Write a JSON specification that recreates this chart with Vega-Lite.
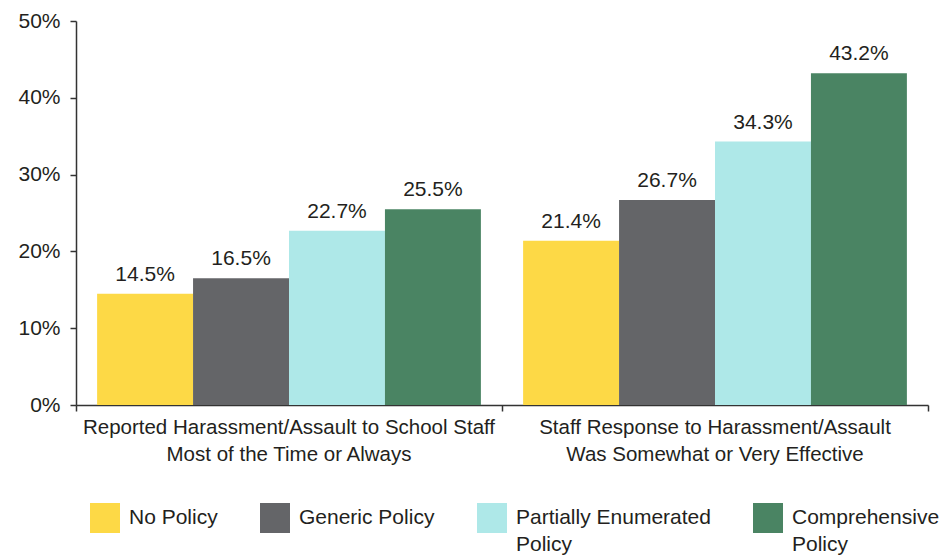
{
  "$schema": "https://vega.github.io/schema/vega-lite/v6.json",
  "autosize": {"type": "none"},
  "width": 852,
  "height": 384,
  "padding": {"left": 76, "top": 21, "right": 15, "bottom": 150},
  "background": "white",
  "config": {
    "font": "Liberation Sans",
    "view": {"stroke": null},
    "axis": {"labelFont": "Liberation Sans", "labelColor": "#231F20", "labelFontSize": 21, "domainColor": "#333333", "tickColor": "#333333", "domainWidth": 1.5, "tickWidth": 1.5, "grid": false, "title": null}
  },
  "data": {
    "values": [
      {"measure": "Reported Harassment/Assault to School Staff Most of the Time or Always", "policy": "No Policy", "value": 0.145},
      {"measure": "Reported Harassment/Assault to School Staff Most of the Time or Always", "policy": "Generic Policy", "value": 0.165},
      {"measure": "Reported Harassment/Assault to School Staff Most of the Time or Always", "policy": "Partially Enumerated Policy", "value": 0.227},
      {"measure": "Reported Harassment/Assault to School Staff Most of the Time or Always", "policy": "Comprehensive Policy", "value": 0.255},
      {"measure": "Staff Response to Harassment/Assault Was Somewhat or Very Effective", "policy": "No Policy", "value": 0.214},
      {"measure": "Staff Response to Harassment/Assault Was Somewhat or Very Effective", "policy": "Generic Policy", "value": 0.267},
      {"measure": "Staff Response to Harassment/Assault Was Somewhat or Very Effective", "policy": "Partially Enumerated Policy", "value": 0.343},
      {"measure": "Staff Response to Harassment/Assault Was Somewhat or Very Effective", "policy": "Comprehensive Policy", "value": 0.432}
    ]
  },
  "encoding": {
    "xOffset": {
      "field": "policy", "type": "nominal", "sort": ["No Policy", "Generic Policy", "Partially Enumerated Policy", "Comprehensive Policy"],
      "scale": {"paddingInner": 0, "paddingOuter": 0.22}
    },
    "y": {
      "field": "value", "type": "quantitative",
      "scale": {"domain": [0, 0.5], "nice": false},
      "axis": {"values": [0, 0.1, 0.2, 0.3, 0.4, 0.5], "format": ".0%", "tickSize": 6, "labelPadding": 10}
    }
  },
  "resolve": {"axis": {"x": "independent"}},
  "layer": [
    {
      "mark": {"type": "bar"},
      "encoding": {
        "x": {
          "field": "measure", "type": "nominal", "sort": null,
          "scale": {"paddingInner": 0, "paddingOuter": 0},
          "axis": {"orient": "bottom", "tickBand": "extent", "tickSize": 6, "labels": false}
        },
        "color": {
          "field": "policy", "type": "nominal",
          "scale": {"domain": ["No Policy", "Generic Policy", "Partially Enumerated Policy", "Comprehensive Policy"], "range": ["#FDD946", "#646568", "#AEE8E8", "#4A8463"]},
          "legend": {
            "title": null, "orient": "none", "legendX": 14, "legendY": 482, "direction": "horizontal", "columns": 4,
            "padding": 0, "symbolType": "square", "symbolSize": 900, "symbolStrokeWidth": 0, "symbolOpacity": 1,
            "labelFont": "Liberation Sans", "labelFontSize": 21, "labelColor": "#231F20", "labelLimit": 0, "labelOffset": 9,
            "columnPadding": 42,
            "labelExpr": "datum.label == 'Partially Enumerated Policy' ? ['Partially Enumerated', 'Policy'] : datum.label == 'Comprehensive Policy' ? ['Comprehensive', 'Policy'] : [datum.label, ' ']",
            "encode": {"labels": {"update": {"lineHeight": {"value": 27}}}}
          }
        }
      }
    },
    {
      "mark": {"type": "text", "baseline": "alphabetic", "dy": -13, "fontSize": 21, "color": "#231F20", "font": "Liberation Sans"},
      "encoding": {
        "x": {
          "field": "measure", "type": "nominal", "sort": null,
          "scale": {"paddingInner": 0, "paddingOuter": 0},
          "axis": {
            "orient": "bottom", "ticks": false, "domain": false, "labelAngle": 0, "labelPadding": 12, "labelLineHeight": 27, "labelLimit": 0, "labelBaseline": "top", "labelFontSize": 20.5,
            "labelExpr": "datum.value == 'Reported Harassment/Assault to School Staff Most of the Time or Always' ? ['Reported Harassment/Assault to School Staff', 'Most of the Time or Always'] : ['Staff Response to Harassment/Assault', 'Was Somewhat or Very Effective']"
          }
        },
        "text": {"field": "value", "type": "quantitative", "format": ".1%"}
      }
    }
  ]
}
